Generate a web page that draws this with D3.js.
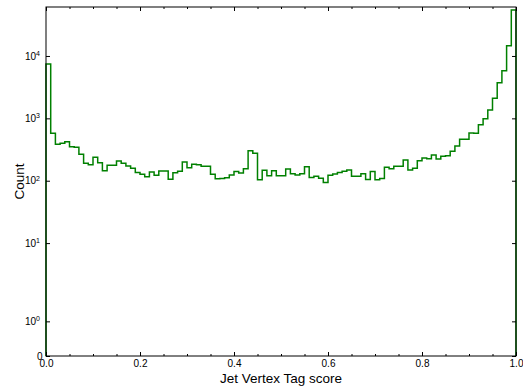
<!DOCTYPE html>
<html>
<head>
<meta charset="utf-8">
<script src="https://cdn.jsdelivr.net/npm/d3@7"></script>
<style>
body { margin: 0; background: #fff; }
svg { display: block; font-family: "Liberation Sans", Arial, sans-serif; }
</style>
</head>
<body>
<div id="chart"></div>
<script>
// histogram counts, 100 bins of width 0.01 on [0, 1]
var counts = [
    7430, 575, 384, 398, 422, 351, 344, 265, 190, 181,
    237, 194, 145, 177, 177, 207, 190, 172, 158, 136,
    127, 116, 138, 122, 143, 143, 106, 134, 142, 200,
    162, 183, 181, 170, 170, 127, 108, 109, 112, 124,
    140, 133, 156, 303, 275, 104, 147, 120, 145, 120,
    120, 154, 129, 124, 129, 168, 113, 118, 110, 94,
    122, 128, 136, 142, 149, 118, 118, 129, 105, 140,
    104, 109, 164, 156, 170, 170, 215, 149, 158, 209,
    231, 225, 258, 223, 246, 252, 296, 360, 461, 461,
    582, 575, 791, 987, 1362, 2094, 3724, 5808, 14590, 54580
];
var binStart = 0;
var binWidth = 0.01;

var xMajorTicks = [0, 0.2, 0.4, 0.6, 0.8, 1.0];
var xTickLabels = ["0.0", "0.2", "0.4", "0.6", "0.8", "1.0"];
var xMinorTicks = [0.05, 0.1, 0.15, 0.25, 0.3, 0.35, 0.45, 0.5, 0.55, 0.65, 0.7, 0.75, 0.85, 0.9, 0.95];
var yTicks = [0, 1, 10, 100, 1000, 10000];
var yTickExps = ["", "0", "1", "2", "3", "4"];
var yMax = 61000;

var xLabel = "Jet Vertex Tag score";
var yLabel = "Count";

var W = 523, H = 390;
var pLeft = 46, pRight = 516, pTop = 7, pBottom = 356;

// matplotlib style symlog, linthresh 2, linscale 1
var linthresh = 2;
var linscaleAdj = 1 / (1 - 1 / 10);
function symlog(v) {
    if (v <= linthresh) return v * linscaleAdj;
    return linthresh * (linscaleAdj + Math.log10(v / linthresh));
}

var x = d3.scaleLinear().domain([0, 1]).range([pLeft, pRight]);
var yT = d3.scaleLinear().domain([0, symlog(yMax)]).range([pBottom, pTop]);
function y(v) { return yT(symlog(v)); }

var svg = d3.select("#chart").append("svg")
    .attr("width", W)
    .attr("height", H);

// step outline
var pts = [[binStart, 0]];
counts.forEach(function(c, i) {
    pts.push([binStart + i * binWidth, c]);
});
pts.push([binStart + counts.length * binWidth, 0]);

var line = d3.line()
    .x(function(d) { return x(d[0]); })
    .y(function(d) { return y(d[1]); })
    .curve(d3.curveStepAfter);

svg.append("path")
    .datum(pts)
    .attr("d", line)
    .attr("fill", "none")
    .attr("stroke", "#008000")
    .attr("stroke-width", 1.5);

// ticks
function styleAxis(g) {
    g.select(".domain").remove();
    g.selectAll(".tick line").attr("stroke", "#000");
    g.selectAll(".tick text").attr("fill", "#000");
}

svg.append("g")
    .attr("transform", "translate(0," + pBottom + ")")
    .call(d3.axisBottom(x).tickValues(xMajorTicks).tickSize(-4).tickPadding(4)
        .tickFormat(function(d, i) { return xTickLabels[i]; }))
    .attr("font-size", 10)
    .attr("font-family", null)
    .call(styleAxis);

svg.append("g")
    .attr("transform", "translate(0," + pBottom + ")")
    .call(d3.axisBottom(x).tickValues(xMinorTicks).tickSize(-2).tickFormat(""))
    .call(styleAxis);

svg.append("g")
    .attr("transform", "translate(0," + pTop + ")")
    .call(d3.axisTop(x).tickValues(xMajorTicks).tickSize(-4).tickFormat(""))
    .call(styleAxis);

svg.append("g")
    .attr("transform", "translate(0," + pTop + ")")
    .call(d3.axisTop(x).tickValues(xMinorTicks).tickSize(-2).tickFormat(""))
    .call(styleAxis);

var yAxisL = svg.append("g")
    .attr("transform", "translate(" + pLeft + ",0)")
    .call(d3.axisLeft(yT).tickValues(yTicks.map(symlog)).tickSize(-4).tickPadding(6)
        .tickFormat(function(d, i) { return i === 0 ? "0" : "10"; }))
    .attr("font-size", 10)
    .attr("font-family", null)
    .call(styleAxis);

yAxisL.selectAll(".tick text").each(function(d, i) {
    var t = d3.select(this);
    if (i === 0) {
        t.attr("x", -3.5);
        return;
    }
    t.append("tspan")
        .attr("font-size", 7)
        .attr("dy", "-0.55em")
        .text(yTickExps[i]);
});

svg.append("g")
    .attr("transform", "translate(" + pRight + ",0)")
    .call(d3.axisRight(yT).tickValues(yTicks.map(symlog)).tickSize(-4).tickFormat(""))
    .call(styleAxis);

// frame
svg.append("rect")
    .attr("x", pLeft)
    .attr("y", pTop)
    .attr("width", pRight - pLeft)
    .attr("height", pBottom - pTop)
    .attr("fill", "none")
    .attr("stroke", "#000")
    .attr("stroke-width", 1);

// axis labels
svg.append("text")
    .attr("x", (pLeft + pRight) / 2)
    .attr("y", 383)
    .attr("text-anchor", "middle")
    .attr("font-size", 13.5)
    .text(xLabel);

svg.append("text")
    .attr("transform", "translate(24," + (pTop + pBottom) / 2 + ") rotate(-90)")
    .attr("text-anchor", "middle")
    .attr("font-size", 13.5)
    .text(yLabel);
</script>
</body>
</html>
